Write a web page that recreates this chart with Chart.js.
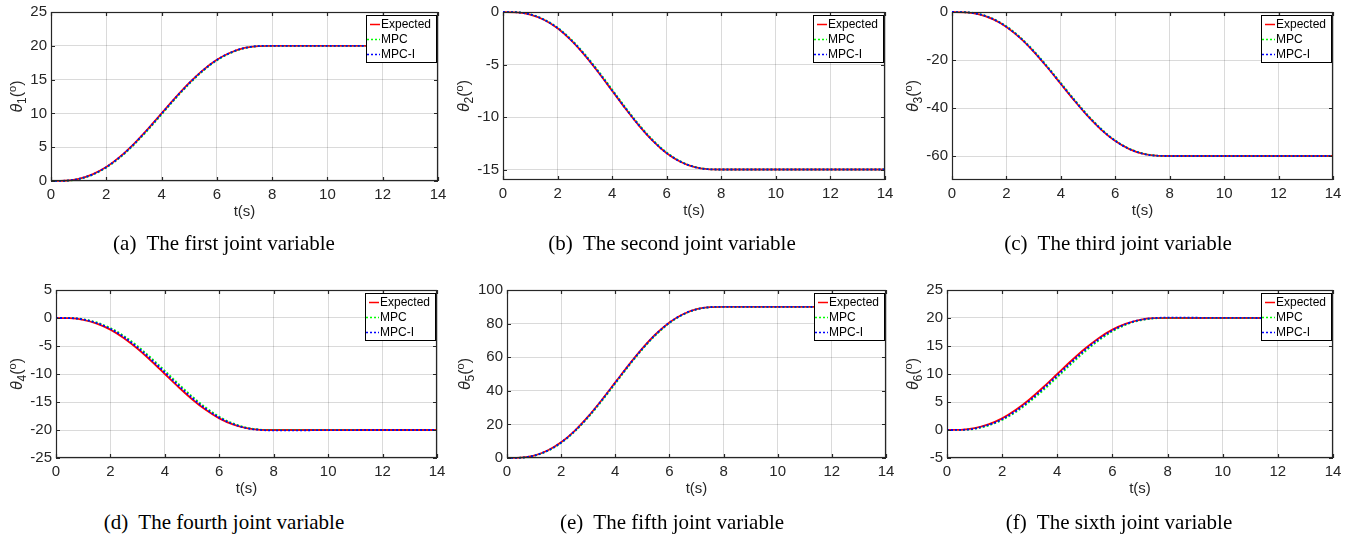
<!DOCTYPE html>
<html>
<head>
<meta charset="utf-8">
<script src="https://cdn.jsdelivr.net/npm/chart.js@4.4.1/dist/chart.umd.min.js"></script>
<style>
  body { margin: 0; width: 1355px; height: 537px; background: #fff; position: relative; overflow: hidden; }
  canvas { position: absolute; }
  .cap { position: absolute; font: 21px "Liberation Serif", "Times New Roman", serif; color: #000;
         white-space: pre; transform: translate(-50%, -50%); }
</style>
</head>
<body>
<script>
// tiempo (s)
const tiempo = [0, 0.5, 1, 1.5, 2, 2.5, 3, 3.5, 4, 4.5, 5, 5.5, 6, 6.5, 7, 7.5, 8, 10, 12, 14];
const ticksTiempo = [0, 2, 4, 6, 8, 10, 12, 14];

// joint 1
const esperado1 = [0, 0.04, 0.32, 0.99, 2.07, 3.6, 5.5, 7.68, 10, 12.32, 14.5, 16.4, 17.93, 19.01, 19.68, 19.96, 20, 20, 20, 20];
const mpc1      = [0, 0.03, 0.28, 0.93, 1.98, 3.48, 5.36, 7.52, 9.84, 12.17, 14.36, 16.28, 17.84, 18.95, 19.65, 19.95, 20, 20, 20, 20];
const mpcI1     = [0, 0.04, 0.31, 0.97, 2.05, 3.57, 5.46, 7.64, 9.96, 12.28, 14.46, 16.37, 17.91, 19.0, 19.67, 19.96, 20, 20, 20, 20];
const ticksY1 = [0, 5, 10, 15, 20, 25];

// joint 2
const esperado2 = [0, -0.03, -0.24, -0.74, -1.55, -2.7, -4.13, -5.76, -7.5, -9.24, -10.87, -12.3, -13.45, -14.26, -14.76, -14.97, -15, -15, -15, -15];
const mpc2      = [0, -0.02, -0.21, -0.7, -1.49, -2.61, -4.02, -5.64, -7.38, -9.13, -10.77, -12.21, -13.38, -14.21, -14.74, -14.96, -15, -15, -15, -15];
const mpcI2     = [0, -0.03, -0.23, -0.73, -1.53, -2.68, -4.1, -5.73, -7.47, -9.21, -10.85, -12.28, -13.44, -14.25, -14.75, -14.97, -15, -15, -15, -15];
const ticksY2 = [-15, -10, -5, 0];

// joint 3
const esperado3 = [0, -0.13, -0.96, -2.96, -6.21, -10.8, -16.5, -23.04, -30, -36.96, -43.5, -49.2, -53.79, -57.04, -59.04, -59.87, -60, -60, -60, -60];
const mpc3      = [0, -0.1, -0.85, -2.78, -5.96, -10.47, -16.1, -22.6, -29.55, -36.52, -43.1, -48.85, -53.52, -56.87, -58.95, -59.84, -60, -60, -60, -60];
const mpcI3     = [0, -0.12, -0.93, -2.91, -6.14, -10.71, -16.39, -22.92, -29.88, -36.84, -43.39, -49.11, -53.72, -57.0, -59.02, -59.86, -60, -60, -60, -60];
const ticksY3 = [-60, -40, -20, 0];

// joint 4
const esperado4 = [0, -0.04, -0.32, -0.99, -2.07, -3.6, -5.5, -7.68, -10, -12.32, -14.5, -16.4, -17.93, -19.01, -19.68, -19.96, -20, -20, -20, -20];
const mpc4      = [0, -0.01, -0.22, -0.8, -1.79, -3.22, -5.04, -7.15, -9.44, -11.77, -14.0, -15.98, -17.62, -18.82, -19.58, -19.93, -20.02, -20, -20, -20];
const mpcI4     = [0, -0.02, -0.27, -0.9, -1.93, -3.41, -5.27, -7.42, -9.72, -12.05, -14.26, -16.2, -17.79, -18.93, -19.65, -19.98, -20.08, -20.02, -20, -20];
const ticksY4 = [-25, -20, -15, -10, -5, 0, 5];

// joint 5
const esperado5 = [0, 0.2, 1.44, 4.45, 9.32, 16.2, 24.75, 34.56, 45, 55.44, 65.25, 73.8, 80.68, 85.56, 88.56, 89.8, 90, 90, 90, 90];
const mpc5      = [0, 0.15, 1.3, 4.2, 8.98, 15.72, 24.15, 33.9, 44.3, 54.8, 64.66, 73.3, 80.3, 85.3, 88.42, 89.76, 90, 90, 90, 90];
const mpcI5     = [0, 0.18, 1.4, 4.38, 9.22, 16.06, 24.58, 34.38, 44.8, 55.25, 65.08, 73.66, 80.58, 85.5, 88.53, 89.79, 90, 90, 90, 90];
const ticksY5 = [0, 20, 40, 60, 80, 100];

// joint 6
const esperado6 = [0, 0.04, 0.32, 0.99, 2.07, 3.6, 5.5, 7.68, 10, 12.32, 14.5, 16.4, 17.93, 19.01, 19.68, 19.96, 20, 20, 20, 20];
const mpc6      = [0, 0.01, 0.22, 0.8, 1.79, 3.22, 5.04, 7.15, 9.44, 11.77, 14.0, 15.98, 17.62, 18.82, 19.58, 19.93, 20.02, 20, 20, 20];
const mpcI6     = [0, 0.02, 0.27, 0.9, 1.93, 3.41, 5.27, 7.42, 9.72, 12.05, 14.26, 16.2, 17.79, 18.93, 19.65, 19.98, 20.06, 20.02, 20, 20];
const ticksY6 = [-5, 0, 5, 10, 15, 20, 25];

const rangosY = [[0, 25], [-16, 0], [-70, 0], [-25, 5], [0, 100], [-5, 25]];
const leyendas = ['Expected', 'MPC', 'MPC-I'];
const titulos = [
  '(a)  The first joint variable', '(b)  The second joint variable', '(c)  The third joint variable',
  '(d)  The fourth joint variable', '(e)  The fifth joint variable', '(f)  The sixth joint variable'
];

// posicion del area de cada grafico en la pagina (px)
const cajas = [
  { left: 51,  top: 12,  w: 387, h: 169, capX: 224,  capY: 243 },
  { left: 503, top: 12,  w: 382, h: 168, capX: 672,  capY: 243 },
  { left: 952, top: 12,  w: 381, h: 168, capX: 1118, capY: 243 },
  { left: 56,  top: 290, w: 381, h: 168, capX: 224,  capY: 522 },
  { left: 507, top: 290, w: 379, h: 168, capX: 672,  capY: 522 },
  { left: 947, top: 290, w: 386, h: 168, capX: 1119, capY: 522 }
];

const series = [
  [esperado1, mpc1, mpcI1], [esperado2, mpc2, mpcI2], [esperado3, mpc3, mpcI3],
  [esperado4, mpc4, mpcI4], [esperado5, mpc5, mpcI5], [esperado6, mpc6, mpcI6]
];
const ticksY = [ticksY1, ticksY2, ticksY3, ticksY4, ticksY5, ticksY6];

const IZQ = 64, ARR = 10, DER = 12, ABA = 50;
const colorEjes = '#262626';
const fuenteTicks = { family: '"Liberation Sans", Arial, sans-serif', size: 15 };

// caja estilo MATLAB: marco, ticks hacia dentro, etiquetas y leyenda
const cajaMatlab = {
  id: 'cajaMatlab',
  afterDraw: (chart) => {
    const { ctx, chartArea: a, scales: { x, y } } = chart;
    const n = chart.options.plugins.cajaMatlab.indice;
    ctx.save();
    ctx.strokeStyle = colorEjes;
    ctx.lineWidth = 1.2;
    ctx.strokeRect(a.left + 0.5, a.top + 0.5, a.width - 1, a.height - 1);
    ctx.beginPath();
    x.ticks.forEach(t => {
      const px = Math.round(x.getPixelForValue(t.value)) + 0.5;
      ctx.moveTo(px, a.bottom); ctx.lineTo(px, a.bottom - 4);
      ctx.moveTo(px, a.top); ctx.lineTo(px, a.top + 4);
    });
    y.ticks.forEach(t => {
      const py = Math.round(y.getPixelForValue(t.value)) + 0.5;
      ctx.moveTo(a.left, py); ctx.lineTo(a.left + 4, py);
      ctx.moveTo(a.right, py); ctx.lineTo(a.right - 4, py);
    });
    ctx.stroke();

    // t(s)
    ctx.fillStyle = colorEjes;
    ctx.font = '15px "Liberation Sans", Arial, sans-serif';
    ctx.textAlign = 'center';
    ctx.textBaseline = 'middle';
    ctx.fillText('t(s)', (a.left + a.right) / 2, a.bottom + 31);

    // theta_i(o) vertical
    let ancho = 0;
    y.ticks.forEach(t => { ancho = Math.max(ancho, ctx.measureText(t.label).width); });
    const cx = a.left - 4 - ancho - 13;
    const cy = (a.top + a.bottom) / 2;
    const partes = [
      { txt: '\u03B8', f: 'italic 16px "Liberation Sans", Arial, sans-serif', dy: 0 },
      { txt: String(n + 1), f: '12px "Liberation Sans", Arial, sans-serif', dy: 4 },
      { txt: '(', f: '16px "Liberation Sans", Arial, sans-serif', dy: 0 },
      { txt: 'o', f: '11px "Liberation Sans", Arial, sans-serif', dy: -6 },
      { txt: ')', f: '16px "Liberation Sans", Arial, sans-serif', dy: 0 }
    ];
    let total = 0;
    partes.forEach(p => { ctx.font = p.f; p.w = ctx.measureText(p.txt).width; total += p.w; });
    ctx.translate(cx, cy);
    ctx.rotate(-Math.PI / 2);
    ctx.textAlign = 'left';
    ctx.textBaseline = 'alphabetic';
    let px = -total / 2;
    partes.forEach(p => { ctx.font = p.f; ctx.fillText(p.txt, px, 5 + p.dy); px += p.w; });
    ctx.setTransform(1, 0, 0, 1, 0, 0);

    // leyenda
    const bw = 70, bh = 47;
    const bx = a.right - 2 - bw, by = a.top + 3;
    ctx.fillStyle = '#fff';
    ctx.fillRect(bx, by, bw, bh);
    ctx.strokeStyle = '#000';
    ctx.lineWidth = 1;
    ctx.strokeRect(bx + 0.5, by + 0.5, bw, bh);
    ctx.font = '12px "Liberation Sans", Arial, sans-serif';
    ctx.textBaseline = 'middle';
    chart.data.datasets.forEach((ds, k) => {
      const ly = by + 9.5 + k * 15;
      ctx.beginPath();
      ctx.strokeStyle = ds.borderColor;
      ctx.lineWidth = 1.5;
      ctx.setLineDash(ds.borderDash || []);
      ctx.moveTo(k === 0 ? bx + 4 : bx + 1, ly); ctx.lineTo(bx + 14, ly);
      ctx.stroke();
      ctx.setLineDash([]);
      ctx.fillStyle = '#000';
      ctx.fillText(ds.label, bx + 15, ly);
    });
    ctx.restore();
  }
};

function crearPanel(n) {
  const caja = cajas[n];
  const canvas = document.createElement('canvas');
  canvas.width = caja.w + IZQ + DER;
  canvas.height = caja.h + ARR + ABA;
  canvas.style.left = (caja.left - IZQ) + 'px';
  canvas.style.top = (caja.top - ARR) + 'px';
  document.body.appendChild(canvas);

  const colores = ['#ff0000', '#00ff00', '#0000ff'];
  const datasets = series[n].map((valores, k) => ({
    label: leyendas[k],
    data: tiempo.map((t, i) => ({ x: t, y: valores[i] })),
    borderColor: colores[k],
    borderWidth: 1.8,
    borderDash: k === 0 ? [] : [2, 2],
    order: 2 - k,
    pointRadius: 0,
    clip: false,
    cubicInterpolationMode: 'monotone'
  }));

  new Chart(canvas, {
    type: 'line',
    data: { datasets },
    options: {
      responsive: false,
      animation: false,
      devicePixelRatio: 1,
      layout: { padding: { top: ARR, right: DER, left: 0, bottom: 0 } },
      plugins: { legend: { display: false }, tooltip: { enabled: false }, cajaMatlab: { indice: n } },
      scales: {
        x: {
          type: 'linear', min: 0, max: 14,
          afterBuildTicks: (s) => { s.ticks = ticksTiempo.map(v => ({ value: v })); },
          afterFit: (s) => { s.height = ABA; s.paddingLeft = 0; s.paddingRight = 0; },
          grid: { color: 'rgba(38,38,38,0.17)', lineWidth: 1, drawTicks: false },
          border: { display: false },
          ticks: { font: fuenteTicks, color: colorEjes, padding: 5, maxRotation: 0, autoSkip: false }
        },
        y: {
          type: 'linear', min: rangosY[n][0], max: rangosY[n][1],
          afterBuildTicks: (s) => { s.ticks = ticksY[n].map(v => ({ value: v })); },
          afterFit: (s) => { s.width = IZQ; s.paddingTop = 0; s.paddingBottom = 0; },
          grid: { color: 'rgba(38,38,38,0.17)', lineWidth: 1, drawTicks: false },
          border: { display: false },
          ticks: { font: fuenteTicks, color: colorEjes, padding: 4, autoSkip: false }
        }
      }
    },
    plugins: [cajaMatlab]
  });

  const cap = document.createElement('div');
  cap.className = 'cap';
  cap.textContent = titulos[n];
  cap.style.left = caja.capX + 'px';
  cap.style.top = caja.capY + 'px';
  document.body.appendChild(cap);
}

for (let n = 0; n < 6; n++) crearPanel(n);
</script>
</body>
</html>
